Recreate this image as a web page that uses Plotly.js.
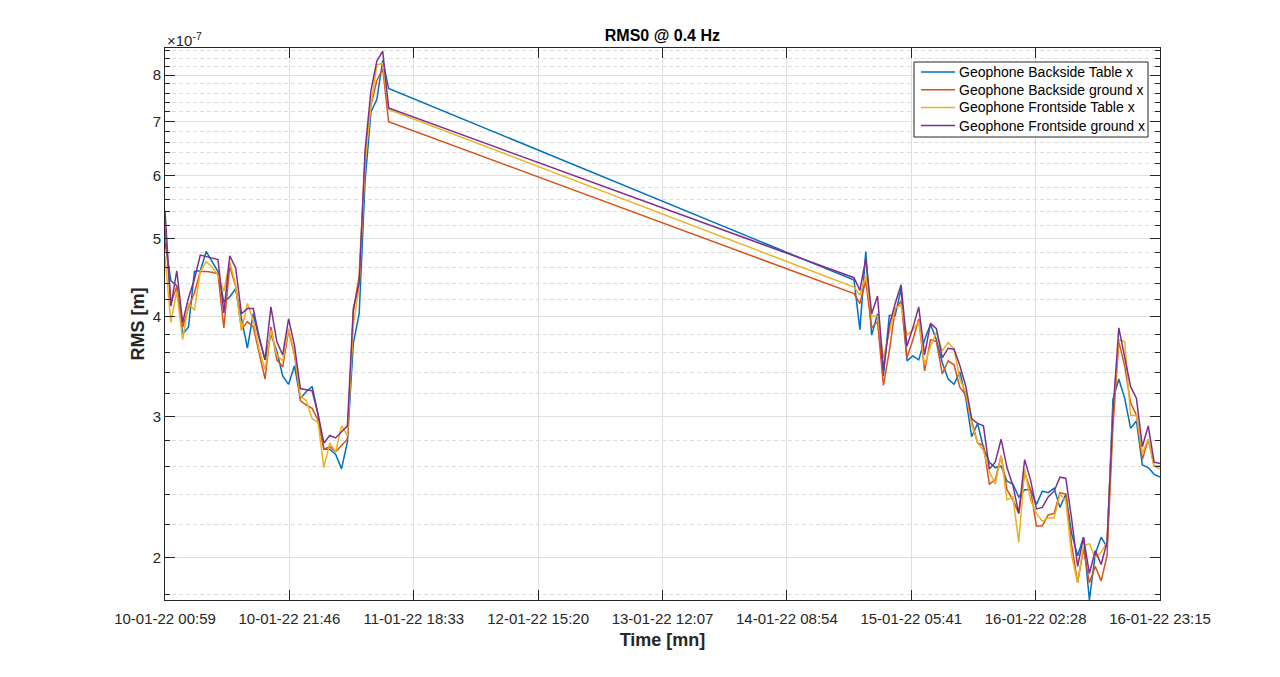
<!DOCTYPE html>
<html><head><meta charset="utf-8">
<script src="https://cdn.plot.ly/plotly-3.0.1.min.js"></script>
<style>html,body{margin:0;padding:0;background:#fff}#chart{width:1280px;height:677px}</style>
</head><body><div id="chart"></div>
<script>
// sample times (two recording blocks)
const timesLeft = ['2022-01-10 00:59','2022-01-10 01:58','2022-01-10 02:57','2022-01-10 03:56','2022-01-10 04:55','2022-01-10 05:54','2022-01-10 06:53','2022-01-10 07:52','2022-01-10 08:51','2022-01-10 09:50','2022-01-10 10:49','2022-01-10 11:48','2022-01-10 12:47','2022-01-10 13:46','2022-01-10 14:45','2022-01-10 15:44','2022-01-10 16:43','2022-01-10 17:42','2022-01-10 18:41','2022-01-10 19:40','2022-01-10 20:39','2022-01-10 21:38','2022-01-10 22:37','2022-01-10 23:36','2022-01-11 00:35','2022-01-11 01:34','2022-01-11 02:33','2022-01-11 03:32','2022-01-11 04:31','2022-01-11 05:30','2022-01-11 06:29','2022-01-11 07:28','2022-01-11 08:27','2022-01-11 09:26','2022-01-11 10:25','2022-01-11 11:24','2022-01-11 12:23','2022-01-11 13:22','2022-01-11 14:21'];
const timesRight = ['2022-01-14 20:07','2022-01-14 21:06','2022-01-14 22:05','2022-01-14 23:04','2022-01-15 00:03','2022-01-15 01:02','2022-01-15 02:01','2022-01-15 03:00','2022-01-15 03:59','2022-01-15 04:58','2022-01-15 05:57','2022-01-15 06:56','2022-01-15 07:55','2022-01-15 08:54','2022-01-15 09:53','2022-01-15 10:52','2022-01-15 11:51','2022-01-15 12:50','2022-01-15 13:49','2022-01-15 14:48','2022-01-15 15:47','2022-01-15 16:46','2022-01-15 17:45','2022-01-15 18:44','2022-01-15 19:43','2022-01-15 20:42','2022-01-15 21:41','2022-01-15 22:40','2022-01-15 23:39','2022-01-16 00:38','2022-01-16 01:37','2022-01-16 02:36','2022-01-16 03:35','2022-01-16 04:34','2022-01-16 05:33','2022-01-16 06:32','2022-01-16 07:31','2022-01-16 08:30','2022-01-16 09:29','2022-01-16 10:28','2022-01-16 11:27','2022-01-16 12:26','2022-01-16 13:25','2022-01-16 14:24','2022-01-16 15:23','2022-01-16 16:22','2022-01-16 17:21','2022-01-16 18:20','2022-01-16 19:19','2022-01-16 20:18','2022-01-16 21:17','2022-01-16 22:16','2022-01-16 23:15'];

// RMS values in units of 1e-7 m
const backsideTableLeft = [4.95,4.43,4.37,3.80,3.88,4.55,4.56,4.82,4.68,4.55,4.17,4.23,4.33,3.98,3.65,4.03,3.75,3.53,3.80,3.62,3.37,3.29,3.47,3.16,3.22,3.27,3.02,2.73,2.73,2.69,2.58,2.79,3.70,4.03,5.90,7.20,7.46,8.35,7.70];
const backsideTableRight = [4.44,3.85,4.82,3.79,4.03,3.37,4.01,4.01,4.33,3.52,3.57,3.53,3.74,3.91,3.74,3.50,3.34,3.29,3.41,3.16,2.83,2.94,2.74,2.63,2.59,2.60,2.49,2.47,2.38,2.43,2.43,2.33,2.42,2.41,2.44,2.31,2.40,2.14,2.01,2.12,1.77,2.02,2.12,2.06,3.15,3.34,3.16,2.90,2.96,2.61,2.59,2.54,2.52];
const backsideGroundLeft = [5.15,4.15,4.36,3.88,4.10,4.28,4.55,4.55,4.54,4.52,3.87,4.62,4.36,3.85,3.94,3.88,3.60,3.34,3.88,3.53,3.46,3.84,3.58,3.14,3.10,3.07,2.97,2.73,2.75,2.71,2.76,2.81,4.05,4.50,6.30,7.33,7.88,8.15,7.00];
const backsideGroundRight = [4.27,4.15,4.43,3.87,3.94,3.28,3.62,4.08,4.18,3.55,3.74,3.97,3.42,3.74,3.72,3.39,3.52,3.48,3.26,3.19,2.96,2.78,2.76,2.47,2.50,2.68,2.43,2.36,2.27,2.55,2.43,2.19,2.19,2.26,2.27,2.41,2.40,2.07,1.86,2.05,1.86,1.95,1.87,2.01,2.91,3.72,3.47,3.12,3.01,2.65,2.81,2.60,2.60];
const frontsideTableLeft = [4.75,3.93,4.30,3.74,4.15,4.07,4.55,4.68,4.61,4.50,4.30,4.68,4.38,3.84,4.15,3.95,3.64,3.43,3.84,3.58,3.52,3.86,3.60,3.18,3.14,2.98,2.95,2.59,2.78,2.71,2.92,2.84,3.90,4.36,6.20,7.35,8.24,8.28,7.25];
const frontsideTableRight = [4.35,4.25,4.50,4.00,4.00,3.55,3.80,4.10,4.13,3.79,3.85,3.94,3.48,3.67,3.82,3.62,3.71,3.64,3.34,3.21,2.93,2.78,2.72,2.56,2.47,2.68,2.36,2.38,2.09,2.58,2.36,2.27,2.22,2.24,2.24,2.40,2.35,2.01,1.86,2.07,2.08,2.00,2.03,2.09,3.03,3.74,3.72,3.01,3.01,2.70,2.81,2.60,2.58];
const frontsideGroundLeft = [5.42,4.12,4.56,3.93,4.22,4.45,4.77,4.75,4.73,4.71,4.04,4.76,4.60,4.03,4.09,4.09,3.77,3.53,4.11,3.72,3.58,3.97,3.68,3.25,3.24,3.23,3.02,2.78,2.84,2.82,2.87,2.92,4.09,4.40,6.44,7.66,8.33,8.57,7.28];
const frontsideGroundRight = [4.47,4.31,4.72,4.03,4.24,3.43,3.90,4.15,4.38,3.67,3.87,4.11,3.58,3.92,3.86,3.55,3.65,3.64,3.47,3.27,2.98,2.94,2.92,2.58,2.63,2.81,2.59,2.46,2.27,2.65,2.50,2.30,2.31,2.38,2.42,2.52,2.51,2.23,1.95,2.12,1.91,2.04,1.96,2.09,3.03,3.87,3.56,3.27,3.16,2.75,2.92,2.63,2.62];

const seriesNames = ['Geophone Backside Table x','Geophone Backside ground x','Geophone Frontside Table x','Geophone Frontside ground x'];
const seriesColors = ['#0072BD','#D95319','#EDB120','#7E2F8E'];

const xTickVals = ['2022-01-10 00:59','2022-01-10 21:46','2022-01-11 18:33','2022-01-12 15:20','2022-01-13 12:07','2022-01-14 08:54','2022-01-15 05:41','2022-01-16 02:28','2022-01-16 23:15'];
const yTickVals = [2,3,4,5,6,7,8];
const yTickText = ['2','3','4','5','6','7','8'];
const yMinorVals = [1.8,2.2,2.4,2.6,2.8,3.2,3.4,3.6,3.8,4.2,4.4,4.6,4.8,5.2,5.4,5.6,5.8,6.2,6.4,6.6,6.8,7.2,7.4,7.6,7.8,8.2,8.4,8.6];
const yRange = [1.77, 8.65];
const SCALE = 1e-7;

const times = timesLeft.concat(timesRight);
const seriesData = [
  backsideTableLeft.concat(backsideTableRight),
  backsideGroundLeft.concat(backsideGroundRight),
  frontsideTableLeft.concat(frontsideTableRight),
  frontsideGroundLeft.concat(frontsideGroundRight)
];

const traces = seriesData.map((vals, k) => ({
  type: 'scatter', mode: 'lines', name: seriesNames[k], showlegend: false,
  x: times, y: vals.map(v => v * SCALE),
  line: {color: seriesColors[k], width: 1.5}
}));

const FONT = 'Liberation Sans, Arial, Helvetica, sans-serif';
const AX = '#262626';

// plot area in pixels (for the boxed legend)
const M = {l: 165, r: 120, t: 48, b: 77};
const PW = 1280 - M.l - M.r, PH = 677 - M.t - M.b;
const px = x => (x - M.l) / PW;
const py = y => (677 - M.b - y) / PH;

const legendBox = {x0: 914, x1: 1148, y0: 62, y1: 137};
const legendRows = [72, 89.7, 107.5, 125.5];
const shapes = [{
  type: 'rect', xref: 'paper', yref: 'paper',
  x0: px(legendBox.x0), x1: px(legendBox.x1), y0: py(legendBox.y1), y1: py(legendBox.y0),
  line: {color: AX, width: 1}, fillcolor: '#ffffff', layer: 'above'
}];
const annotations = [{
  xref: 'paper', yref: 'paper', x: 0, y: 1, xanchor: 'left', yanchor: 'bottom',
  text: '×10<sup>-7</sup>', showarrow: false, font: {family: FONT, size: 15, color: AX}, yshift: -3
}];
seriesNames.forEach((name, k) => {
  shapes.push({type: 'line', xref: 'paper', yref: 'paper', layer: 'above',
    x0: px(921), x1: px(955), y0: py(legendRows[k]), y1: py(legendRows[k]),
    line: {color: seriesColors[k], width: 1.5}});
  annotations.push({xref: 'paper', yref: 'paper', x: px(957), y: py(legendRows[k]),
    xanchor: 'left', yanchor: 'middle', showarrow: false, text: name,
    font: {family: FONT, size: 14, color: '#000'}});
});

const layout = {
  width: 1280, height: 677,
  paper_bgcolor: '#ffffff', plot_bgcolor: '#ffffff',
  margin: M,
  font: {family: FONT, color: AX, size: 15},
  showlegend: false,
  title: {text: '<b>RMS0 @ 0.4 Hz</b>', x: 0.5175, xanchor: 'center', y: 1 - 35/677, yanchor: 'middle', yref: 'container', font: {family: FONT, size: 16, color: '#000'}},
  xaxis: {
    type: 'date',
    range: [timesLeft[0], timesRight[timesRight.length - 1]],
    tickmode: 'array', tickvals: xTickVals, tickformat: '%d-%m-%y %H:%M',
    ticks: 'inside', ticklen: 10, tickwidth: 1, tickcolor: AX,
    ticklabelstandoff: 5,
    showline: true, linecolor: AX, linewidth: 1, mirror: 'ticks',
    showgrid: true, gridcolor: '#dfdfdf', gridwidth: 1,
    zeroline: false,
    tickfont: {family: FONT, size: 15, color: AX},
    title: {text: '<b>Time [mn]</b>', font: {family: FONT, size: 18, color: AX}, standoff: 7}
  },
  yaxis: {
    type: 'log',
    range: [Math.log10(yRange[0] * SCALE), Math.log10(yRange[1] * SCALE)],
    tickmode: 'array', tickvals: yTickVals.map(v => v * SCALE), ticktext: yTickText,
    ticks: 'inside', ticklen: 10, tickwidth: 1, tickcolor: AX,
    showline: true, linecolor: AX, linewidth: 1, mirror: 'ticks',
    showgrid: true, gridcolor: '#dfdfdf', gridwidth: 1,
    zeroline: false,
    minor: {tickmode: 'array', tickvals: yMinorVals.map(v => v * SCALE), ticks: 'inside', ticklen: 5, tickcolor: AX,
            showgrid: true, gridcolor: '#dcdcdc', griddash: '4px,3px', gridwidth: 1},
    tickfont: {family: FONT, size: 15, color: AX},
    title: {text: '<b>RMS [m]</b>', font: {family: FONT, size: 18, color: AX}, standoff: 3}
  },
  shapes: shapes,
  annotations: annotations
};

Plotly.newPlot('chart', traces, layout, {displayModeBar: false, staticPlot: true});
</script>
</body></html>
